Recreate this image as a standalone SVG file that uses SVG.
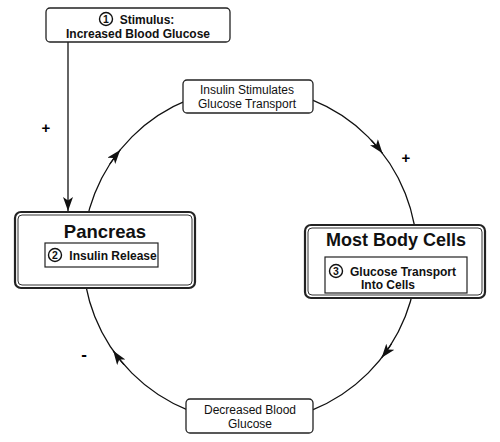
<svg xmlns="http://www.w3.org/2000/svg" width="500" height="442" viewBox="0 0 500 442">
<style>
text{font-family:"Liberation Sans",Arial,sans-serif;fill:#111;text-anchor:middle}
.b{font-weight:bold}
.box{fill:#fff;stroke:#222;stroke-width:1.3}
.outer{fill:#fff;stroke:#222;stroke-width:2.2}
.inner{fill:none;stroke:#333;stroke-width:1}
.num{fill:#fff;stroke:#111;stroke-width:1.4}
.line{fill:none;stroke:#111;stroke-width:1.3}
.sign{font-weight:bold;fill:#000}
</style>
<defs>
<marker id="ah" markerUnits="userSpaceOnUse" markerWidth="16" markerHeight="12" refX="14" refY="5" orient="auto">
<path d="M0,0 L14,5 L0,10 L3.5,5 z" fill="#111"/>
</marker>
</defs>
<g id="connectors">
<circle cx="250" cy="255" r="167" class="line"/>
<path d="M371.1,140 A167,167 0 0 1 382.5,153.3" class="line" marker-end="url(#ah)"/>
<path d="M391.6,343.5 A167,167 0 0 1 381.6,357.8" class="line" marker-end="url(#ah)"/>
<path d="M124,364.6 A167,167 0 0 1 113.2,350.8" class="line" marker-end="url(#ah)"/>
<path d="M109.9,164 A167,167 0 0 1 120.2,149.9" class="line" marker-end="url(#ah)"/>
<line x1="68" y1="42" x2="68" y2="211" class="line" marker-end="url(#ah)"/>
<text x="46" y="133" class="sign" font-size="15">+</text>
<text x="406" y="163" class="sign" font-size="15">+</text>
<text x="84" y="360" class="sign" font-size="17">-</text>
</g>
<g id="stimulus">
<rect x="46" y="8" width="184" height="34" rx="4" class="box"/>
<circle cx="106" cy="19" r="6.5" class="num"/>
<text x="106" y="23" class="b" font-size="10.5">1</text>
<text x="147" y="23.5" class="b" font-size="12">Stimulus:</text>
<text x="138" y="37.5" class="b" font-size="12">Increased Blood Glucose</text>
</g>
<g id="insulin-stimulates">
<rect x="183" y="80" width="130" height="33" rx="4" class="box"/>
<text x="247" y="94" font-size="12">Insulin Stimulates</text>
<text x="247" y="108" font-size="12">Glucose Transport</text>
</g>
<g id="decreased">
<rect x="186" y="399" width="127" height="34" rx="4" class="box"/>
<text x="250" y="414" font-size="12">Decreased Blood</text>
<text x="250" y="428" font-size="12">Glucose</text>
</g>
<g id="pancreas">
<rect x="15" y="212" width="180" height="76" rx="6" class="outer"/>
<rect x="18" y="215" width="174" height="70" rx="4" class="inner"/>
<text x="105" y="238" class="b" font-size="18.5">Pancreas</text>
<rect x="45" y="243" width="113" height="24" fill="#fff" stroke="#222" stroke-width="1.2"/>
<circle cx="55" cy="255" r="6.5" class="num"/>
<text x="55" y="259" class="b" font-size="10.5">2</text>
<text x="113" y="260" class="b" font-size="12">Insulin Release</text>
</g>
<g id="body-cells">
<rect x="305" y="225" width="180" height="73" rx="6" class="outer"/>
<rect x="308" y="228" width="174" height="67" rx="4" class="inner"/>
<text x="396" y="246" class="b" font-size="18">Most Body Cells</text>
<rect x="325" y="257" width="142" height="36" fill="#fff" stroke="#222" stroke-width="1.2"/>
<circle cx="336" cy="271" r="6.5" class="num"/>
<text x="336" y="275" class="b" font-size="10.5">3</text>
<text x="403" y="276" class="b" font-size="12">Glucose Transport</text>
<text x="388" y="289" class="b" font-size="12">Into Cells</text>
</g>
</svg>
